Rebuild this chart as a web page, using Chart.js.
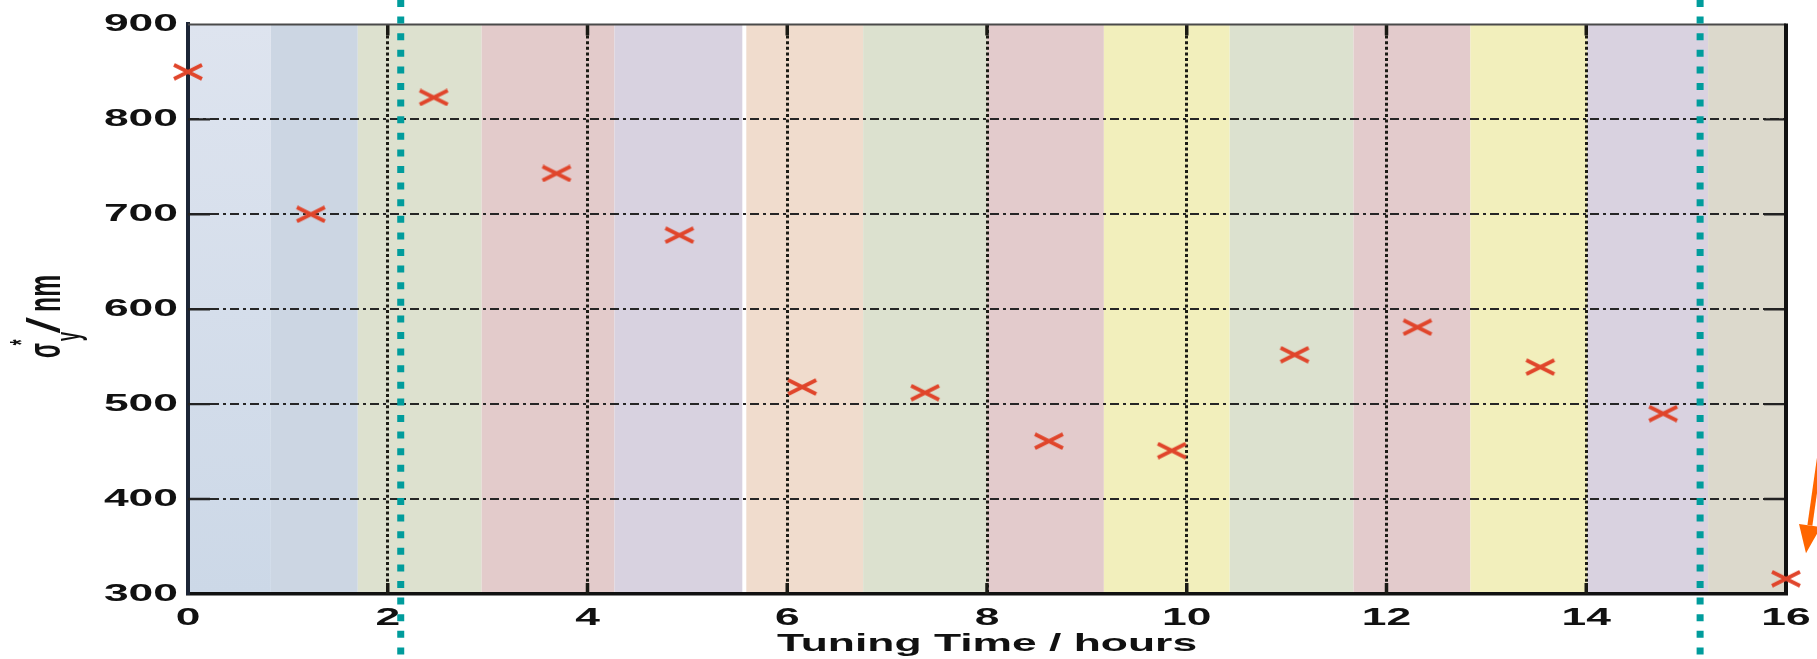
<!DOCTYPE html>
<html>
<head>
<meta charset="utf-8">
<script src="https://cdn.jsdelivr.net/npm/chart.js@4.4.1/dist/chart.umd.min.js"></script>
<style>
  html,body{margin:0;padding:0;background:#ffffff;}
  #wrap{width:1817px;height:659px;position:relative;}
</style>
</head>
<body>
<div id="wrap"><canvas id="c" width="1817" height="659"></canvas></div>
<script>
// ---------------- DATA ----------------
const tuningHours = [0, 1.23, 2.46, 3.69, 4.92, 6.15, 7.38, 8.62, 9.85, 11.08, 12.31, 13.54, 14.77, 16];
const sigmaY      = [850, 700, 823, 743, 678, 518, 512, 461, 451, 552, 581, 539, 490, 316];

const xTickValues = [0, 2, 4, 6, 8, 10, 12, 14, 16];
const yTickValues = [300, 400, 500, 600, 700, 800, 900];

// background bands (one per tuning step), in hours
const bandStarts = [0, 0.83, 1.70, 2.94, 4.27, 5.59, 6.76, 8.00, 9.17, 10.43, 11.67, 12.84, 14.01, 15.22];
const bandEnds   = [0.83, 1.70, 2.94, 4.27, 5.55, 6.76, 8.00, 9.17, 10.43, 11.67, 12.84, 14.01, 15.22, 16];
const bandColors = ['#D6DEEB', '#CCD6E3', '#DDE1CF', '#E3CBCB', '#D8D2E0', '#F0DCCD', '#DCE1CF',
                    '#E3CBCC', '#F2EFBC', '#DCE1CF', '#E3CBCC', '#F2EFBC', '#D9D2E0', '#DCD9CC'];

// annotations
const tealLineHours = [2.13, 15.14];
const arrowTail = {x: 16.36, y: 462};
const arrowTip  = {x: 16.20, y: 343};

const xTitle = 'Tuning Time / hours';

// ---------------- STYLE ----------------
const SX = 1.85;                // horizontal text stretch of the reference
const MARKER = '#E0452B';
const FONT = "'Liberation Sans', Arial, sans-serif";

function makeCross(){
  const c = document.createElement('canvas');
  c.width = 32; c.height = 18;
  const g = c.getContext('2d');
  g.strokeStyle = MARKER; g.lineWidth = 3.8; g.lineCap = 'butt';
  g.beginPath();
  g.moveTo(2, 2); g.lineTo(30, 16);
  g.moveTo(2, 16); g.lineTo(30, 2);
  g.stroke();
  return c;
}

// stretch axis texts horizontally like the reference
const stretchPlugin = {
  id: 'stretch',
  beforeDraw(chart){
    const ctx = chart.ctx;
    const orig = CanvasRenderingContext2D.prototype.fillText;
    ctx.fillText = function(t, x, y, mw){
      this.save();
      this.translate(x, y);
      this.scale(SX, 1);
      if (mw === undefined || mw === null) orig.call(this, t, 0, 0);
      else orig.call(this, t, 0, 0, mw / SX);
      this.restore();
    };
  },
  beforeDatasetsDraw(chart){
    delete chart.ctx.fillText;
  }
};

const bandsPlugin = {
  id: 'bands',
  beforeDraw(chart){
    const {ctx, chartArea: a, scales: {x}} = chart;
    ctx.save();
    for (let i = 0; i < bandStarts.length; i++){
      const x1 = x.getPixelForValue(bandStarts[i]);
      const x2 = x.getPixelForValue(bandEnds[i]);
      if (i === 0){
        const gr = ctx.createLinearGradient(0, a.top, 0, a.bottom);
        gr.addColorStop(0, '#DEE4EF');
        gr.addColorStop(1, '#CCD8E7');
        ctx.fillStyle = gr;
      } else ctx.fillStyle = bandColors[i];
      ctx.fillRect(x1, a.top, x2 - x1, a.bottom - a.top);
    }
    ctx.restore();
  }
};

const framePlugin = {
  id: 'frame',
  beforeDatasetsDraw(chart){
    const {ctx, chartArea: a, scales: {x, y}} = chart;
    ctx.save();
    // inward tick marks
    ctx.strokeStyle = '#1a1a14';
    ctx.lineWidth = 3.5;
    xTickValues.forEach(v => {
      if (v === 0 || v === 16) return;
      const px = x.getPixelForValue(v);
      ctx.beginPath();
      ctx.moveTo(px, a.bottom); ctx.lineTo(px, a.bottom - 11);
      ctx.moveTo(px, a.top); ctx.lineTo(px, a.top + 11);
      ctx.stroke();
    });
    ctx.lineWidth = 2.4;
    ctx.strokeStyle = '#222';
    yTickValues.forEach(v => {
      if (v === 300 || v === 900) return;
      const py = y.getPixelForValue(v);
      ctx.beginPath();
      ctx.moveTo(a.left, py); ctx.lineTo(a.left + 22, py);
      ctx.moveTo(a.right, py); ctx.lineTo(a.right - 22, py);
      ctx.stroke();
    });
    // top and right frame
    ctx.strokeStyle = '#4a4a4a';
    ctx.lineWidth = 2;
    ctx.beginPath(); ctx.moveTo(a.left, a.top); ctx.lineTo(a.right, a.top); ctx.stroke();
    ctx.strokeStyle = '#111';
    ctx.lineWidth = 4;
    ctx.beginPath(); ctx.moveTo(a.right, a.top - 1); ctx.lineTo(a.right, a.bottom + 1); ctx.stroke();
    ctx.restore();

    // y axis title  σ*_y / nm (rotated, stretched across)
    const bx = a.left - 128;
    const piece = (txt, cy, baseX, size, along, weight) => {
      ctx.save();
      ctx.translate(baseX, cy);
      ctx.scale(2.1, 1);
      ctx.rotate(-Math.PI / 2);
      ctx.scale(along, 1);
      ctx.font = weight + ' ' + size + 'px ' + FONT;
      ctx.fillStyle = '#111';
      ctx.textAlign = 'center';
      ctx.textBaseline = 'alphabetic';
      ctx.fillText(txt, 0, 0);
      ctx.restore();
    };
    const t = a.top;
    piece('σ', t + 326, bx, 22, 1.0, 'bold');
    piece('y', t + 312, bx + 20, 17, 1.0, 'bold');
    piece('*', t + 318, bx - 28, 15, 1.0, 'bold');
    piece('/', t + 301, bx, 22, 2.6, 'normal');
    piece('nm', t + 269, bx, 22, 1.12, 'bold');
  },
  afterDraw(chart){
    const {ctx, scales: {x, y}} = chart;
    const H = chart.height;
    ctx.save();
    // teal dotted lines
    ctx.strokeStyle = '#009C9C';
    ctx.lineWidth = 7;
    ctx.setLineDash([7, 9.6]);
    tealLineHours.forEach(v => {
      const px = x.getPixelForValue(v);
      ctx.beginPath(); ctx.moveTo(px, 0); ctx.lineTo(px, H); ctx.stroke();
    });
    ctx.setLineDash([]);
    // orange arrow
    const tx = x.getPixelForValue(arrowTip.x), ty = y.getPixelForValue(arrowTip.y);
    const sx = x.getPixelForValue(arrowTail.x), sy = y.getPixelForValue(arrowTail.y);
    const ang = Math.atan2(ty - sy, tx - sx);
    const headLen = 28, headW = 11;
    const bxp = tx - headLen * Math.cos(ang), byp = ty - headLen * Math.sin(ang);
    ctx.strokeStyle = '#FF6600';
    ctx.fillStyle = '#FF6600';
    ctx.lineWidth = 5;
    ctx.beginPath(); ctx.moveTo(sx, sy); ctx.lineTo(bxp, byp); ctx.stroke();
    ctx.beginPath();
    ctx.moveTo(tx, ty);
    ctx.lineTo(bxp + headW * Math.sin(ang), byp - headW * Math.cos(ang));
    ctx.lineTo(bxp - headW * Math.sin(ang), byp + headW * Math.cos(ang));
    ctx.closePath(); ctx.fill();
    ctx.restore();
  }
};

const cross = makeCross();

new Chart(document.getElementById('c'), {
  type: 'scatter',
  data: {
    datasets: [{
      label: 'sigma_y*',
      data: tuningHours.map((h, i) => ({x: h, y: sigmaY[i]})),
      pointStyle: cross,
      pointRadius: 9,
      pointHoverRadius: 9,
      showLine: false,
      clip: false
    }]
  },
  options: {
    responsive: false,
    animation: false,
    events: [],
    layout: {padding: {left: 0, right: 31, top: 16, bottom: 0}},
    plugins: {legend: {display: false}, tooltip: {enabled: false}},
    scales: {
      x: {
        type: 'linear', min: 0, max: 16,
        afterFit: s => { s.height = 65; },
        afterBuildTicks: s => { s.ticks = xTickValues.map(v => ({value: v})); },
        ticks: {
          color: '#111', padding: 10, maxRotation: 0, autoSkip: false,
          font: {family: FONT, size: 24, weight: 'bold'}
        },
        grid: {
          drawTicks: false,
          lineWidth: 3,
          color: c => (c.tick && (c.tick.value === 0 || c.tick.value === 16)) ? 'rgba(0,0,0,0)' : '#1b1b14'
        },
        border: {display: true, color: '#111', width: 3.5, dash: [3, 2.6]},
        title: {
          display: true, text: xTitle, color: '#111',
          font: {family: FONT, size: 24, weight: 'bold'},
          padding: {top: 0, bottom: 0}
        }
      },
      y: {
        type: 'linear', min: 300, max: 900,
        afterFit: s => { s.width = 188; },
        afterBuildTicks: s => { s.ticks = yTickValues.map(v => ({value: v})); },
        ticks: {
          color: '#111', padding: 10,
          font: {family: FONT, size: 24, weight: 'bold'}
        },
        grid: {
          drawTicks: false,
          lineWidth: 2,
          color: c => (c.tick && (c.tick.value === 300 || c.tick.value === 900)) ? 'rgba(0,0,0,0)' : '#262626'
        },
        border: {display: true, color: '#1C2536', width: 4, dash: [9, 4, 3, 4]}
      }
    }
  },
  plugins: [stretchPlugin, bandsPlugin, framePlugin]
});
</script>
</body>
</html>
